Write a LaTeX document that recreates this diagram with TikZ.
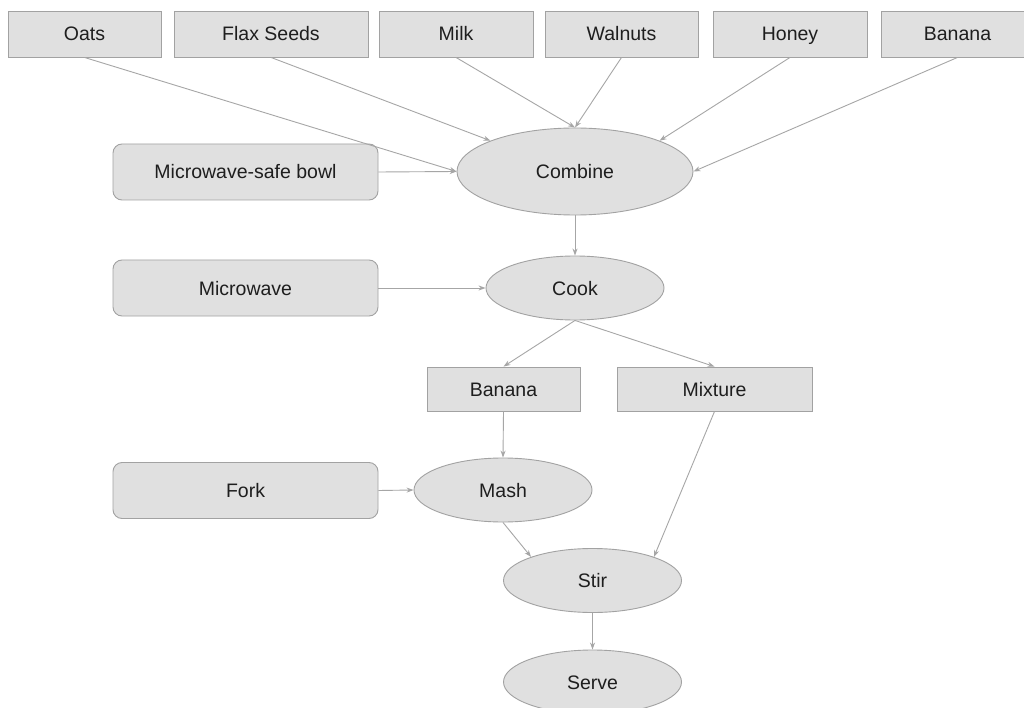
\documentclass[tikz,border=0pt]{standalone}
\usepackage{fontspec}
\setmainfont{Liberation Sans}
\usetikzlibrary{shapes.geometric,arrows.meta}

\definecolor{cajagris}{HTML}{E0E0E0}
\definecolor{bordegris}{HTML}{A2A2A2}
\definecolor{flechagris}{HTML}{A6A6A6}
\definecolor{textogris}{HTML}{1E1E1E}

\tikzset{
  ingrediente/.style={rectangle, draw=bordegris, fill=cajagris, line width=0.9pt,
    minimum height=46pt, inner sep=0pt, text=textogris, text height=14pt, text depth=0pt,
    font=\fontsize{19.5}{22}\selectfont},
  utensilio/.style={ingrediente, rounded corners=9pt, minimum width=265pt, minimum height=56pt},
  paso/.style={ellipse, draw=bordegris, fill=cajagris, line width=0.9pt, inner sep=0pt,
    minimum width=178pt, minimum height=64pt, text=textogris, text height=14pt, text depth=0pt,
    font=\fontsize{19.5}{22}\selectfont},
  flecha/.style={-{Stealth[length=7pt,width=5pt]}, draw=flechagris, line width=0.9pt},
}

\begin{document}
\begin{tikzpicture}[x=1pt, y=-1pt]

    \useasboundingbox (0,0) rectangle (1024,708);
    \clip (0,0) rectangle (1024,708);
    \fill[white] (0,0) rectangle (1024,708);

    % Ingredientes
    \node[ingrediente, minimum width=153pt] (oats) at (84.5,34) {Oats};
    \node[ingrediente, minimum width=194pt] (flax) at (271,34) {Flax Seeds};
    \node[ingrediente, minimum width=154pt] (milk) at (456,34) {Milk};
    \node[ingrediente, minimum width=153pt] (walnuts) at (621.5,34) {Walnuts};
    \node[ingrediente, minimum width=154pt] (honey) at (790,34) {Honey};
    \node[ingrediente, minimum width=153pt] (banana) at (957.5,34) {Banana};

    % Utensilios
    \node[utensilio] (bowl) at (245.5,172) {Microwave-safe bowl};
    \node[utensilio] (microwave) at (245.5,288) {Microwave};
    \node[utensilio] (fork) at (245.5,490.5) {Fork};

    % Pasos
    \node[paso, minimum width=236pt, minimum height=87pt] (combine) at (575,171.5) {Combine};
    \node[paso] (cook) at (575,288) {Cook};
    \node[ingrediente, minimum width=153pt, minimum height=44pt] (bananacocida) at (503.5,389) {Banana};
    \node[ingrediente, minimum width=195pt, minimum height=44pt] (mixture) at (714.5,389) {Mixture};
    \node[paso] (mash) at (503,490) {Mash};
    \node[paso] (stir) at (592.5,580.5) {Stir};
    \node[paso] (serve) at (592.5,682) {Serve};

    % Flechas
    \draw[flecha] (oats.south) -- (combine.west);
    \draw[flecha] (flax.south) -- (combine.160);
    \draw[flecha] (milk.south) -- (combine.north);
    \draw[flecha] (walnuts.south) -- (combine.north);
    \draw[flecha] (honey.south) -- (combine.20);
    \draw[flecha] (banana.south) -- (combine.east);
    \draw[flecha] (bowl.east) -- (combine.west);
    \draw[flecha] (combine.south) -- (cook.north);
    \draw[flecha] (microwave.east) -- (cook.west);
    \draw[flecha] (cook.south) -- (bananacocida.north);
    \draw[flecha] (cook.south) -- (mixture.north);
    \draw[flecha] (bananacocida.south) -- (mash.north);
    \draw[flecha] (fork.east) -- (mash.west);
    \draw[flecha] (mash.south) -- (stir.159);
    \draw[flecha] (mixture.south) -- (stir.21);
    \draw[flecha] (stir.south) -- (serve.north);

  \end{tikzpicture}
\end{document}
